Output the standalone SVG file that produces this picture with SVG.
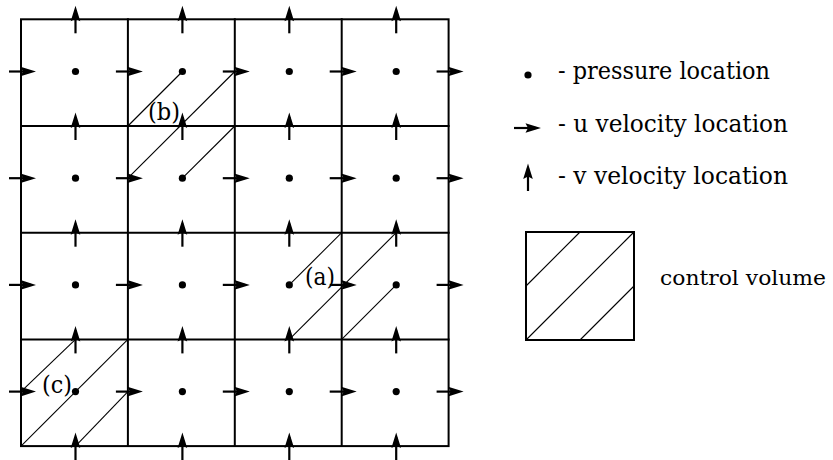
<svg xmlns="http://www.w3.org/2000/svg" xmlns:xlink="http://www.w3.org/1999/xlink" width="833" height="460" viewBox="0 0 833 460">
<style>
.grid{stroke:#000;stroke-width:2;fill:none;stroke-linecap:square}
.hatch{stroke:#000;stroke-width:1.1;fill:none}
.arrline{stroke:#000;stroke-width:2.2}
.lbl{font-family:"DejaVu Serif","Liberation Serif",serif;font-size:24px;fill:#000}
.leg{font-family:"DejaVu Serif","Liberation Serif",serif;font-size:24px;fill:#000}
.cvt{font-family:"DejaVu Serif","Liberation Serif",serif;font-size:20px;fill:#000}
</style>
<defs>
<g id="ua"><line class="arrline" x1="-12" y1="0" x2="10" y2="0"/><path d="M15,0 L-0.5,-4.8 L2,0 L-0.5,4.8 Z" fill="#000"/></g>
<g id="va"><line class="arrline" x1="0" y1="14" x2="0" y2="-9"/><path d="M0,-13.5 L-4.8,2 L0,-0.5 L4.8,2 Z" fill="#000"/></g>
<circle id="pd" r="3.6" fill="#000"/>
</defs>
<rect width="833" height="460" fill="#fff"/>
<g id="grid" class="grid">
<rect x="21" y="19.3" width="427.6" height="426.8"/>
<line x1="127.9" y1="19.3" x2="127.9" y2="446.1"/>
<line x1="234.8" y1="19.3" x2="234.8" y2="446.1"/>
<line x1="341.7" y1="19.3" x2="341.7" y2="446.1"/>
<line x1="21" y1="126" x2="448.6" y2="126"/>
<line x1="21" y1="232.7" x2="448.6" y2="232.7"/>
<line x1="21" y1="339.4" x2="448.6" y2="339.4"/>
</g>
<g id="control-volumes" class="hatch">
<g id="cv-b"><line x1="127.9" y1="126" x2="182.4" y2="71.5"/><line x1="127.9" y1="178.2" x2="234.8" y2="71.5"/><line x1="182.4" y1="178.2" x2="234.8" y2="126"/></g>
<g id="cv-a"><line x1="289.3" y1="284.9" x2="341.7" y2="232.7"/><line x1="289.3" y1="339.4" x2="396.2" y2="232.7"/><line x1="341.7" y1="339.4" x2="396.2" y2="284.9"/></g>
<g id="cv-c"><line x1="21" y1="391.6" x2="75.5" y2="339.4"/><line x1="21" y1="446.1" x2="127.9" y2="339.4"/><line x1="75.5" y1="446.1" x2="127.9" y2="391.6"/></g>
</g>
<g id="pressure-points">
<use xlink:href="#pd" x="75.5" y="71.5"/><use xlink:href="#pd" x="182.4" y="71.5"/><use xlink:href="#pd" x="289.3" y="71.5"/><use xlink:href="#pd" x="396.2" y="71.5"/>
<use xlink:href="#pd" x="75.5" y="178.2"/><use xlink:href="#pd" x="182.4" y="178.2"/><use xlink:href="#pd" x="289.3" y="178.2"/><use xlink:href="#pd" x="396.2" y="178.2"/>
<use xlink:href="#pd" x="75.5" y="284.9"/><use xlink:href="#pd" x="182.4" y="284.9"/><use xlink:href="#pd" x="289.3" y="284.9"/><use xlink:href="#pd" x="396.2" y="284.9"/>
<use xlink:href="#pd" x="75.5" y="391.6"/><use xlink:href="#pd" x="182.4" y="391.6"/><use xlink:href="#pd" x="289.3" y="391.6"/><use xlink:href="#pd" x="396.2" y="391.6"/>
</g>
<g id="u-velocities">
<use xlink:href="#ua" x="21" y="71.5"/><use xlink:href="#ua" x="127.9" y="71.5"/><use xlink:href="#ua" x="234.8" y="71.5"/><use xlink:href="#ua" x="341.7" y="71.5"/><use xlink:href="#ua" x="448.6" y="71.5"/>
<use xlink:href="#ua" x="21" y="178.2"/><use xlink:href="#ua" x="127.9" y="178.2"/><use xlink:href="#ua" x="234.8" y="178.2"/><use xlink:href="#ua" x="341.7" y="178.2"/><use xlink:href="#ua" x="448.6" y="178.2"/>
<use xlink:href="#ua" x="21" y="284.9"/><use xlink:href="#ua" x="127.9" y="284.9"/><use xlink:href="#ua" x="234.8" y="284.9"/><use xlink:href="#ua" x="341.7" y="284.9"/><use xlink:href="#ua" x="448.6" y="284.9"/>
<use xlink:href="#ua" x="21" y="391.6"/><use xlink:href="#ua" x="127.9" y="391.6"/><use xlink:href="#ua" x="234.8" y="391.6"/><use xlink:href="#ua" x="341.7" y="391.6"/><use xlink:href="#ua" x="448.6" y="391.6"/>
</g>
<g id="v-velocities">
<use xlink:href="#va" x="75.5" y="19.3"/><use xlink:href="#va" x="182.4" y="19.3"/><use xlink:href="#va" x="289.3" y="19.3"/><use xlink:href="#va" x="396.2" y="19.3"/>
<use xlink:href="#va" x="75.5" y="126"/><use xlink:href="#va" x="182.4" y="126"/><use xlink:href="#va" x="289.3" y="126"/><use xlink:href="#va" x="396.2" y="126"/>
<use xlink:href="#va" x="75.5" y="232.7"/><use xlink:href="#va" x="182.4" y="232.7"/><use xlink:href="#va" x="289.3" y="232.7"/><use xlink:href="#va" x="396.2" y="232.7"/>
<use xlink:href="#va" x="75.5" y="339.4"/><use xlink:href="#va" x="182.4" y="339.4"/><use xlink:href="#va" x="289.3" y="339.4"/><use xlink:href="#va" x="396.2" y="339.4"/>
<use xlink:href="#va" x="75.5" y="446.1"/><use xlink:href="#va" x="182.4" y="446.1"/><use xlink:href="#va" x="289.3" y="446.1"/><use xlink:href="#va" x="396.2" y="446.1"/>
</g>
<g id="labels">
<text class="lbl" x="148" y="120" textLength="32" lengthAdjust="spacingAndGlyphs">(b)</text>
<text class="lbl" x="305" y="285" textLength="30" lengthAdjust="spacingAndGlyphs">(a)</text>
<text class="lbl" x="42" y="393" textLength="30" lengthAdjust="spacingAndGlyphs">(c)</text>
</g>
<g id="legend">
<g id="legend-pressure"><use xlink:href="#pd" x="528" y="75"/><text class="leg" x="558" y="79" textLength="212" lengthAdjust="spacingAndGlyphs">- pressure location</text></g>
<g id="legend-u"><use xlink:href="#ua" x="526" y="128"/><text class="leg" x="558" y="132" textLength="230" lengthAdjust="spacingAndGlyphs">- u velocity location</text></g>
<g id="legend-v"><use xlink:href="#va" x="528" y="177"/><text class="leg" x="558" y="184" textLength="230" lengthAdjust="spacingAndGlyphs">- v velocity location</text></g>
<g id="legend-cv">
<rect x="526" y="232" width="108" height="108" fill="none" stroke="#000" stroke-width="2"/>
<g class="hatch"><line x1="526" y1="286" x2="580" y2="232"/><line x1="526" y1="340" x2="634" y2="232"/><line x1="580" y1="340" x2="634" y2="286"/></g>
<text class="cvt" x="660" y="285" textLength="166" lengthAdjust="spacingAndGlyphs">control volume</text>
</g>
</g>
</svg>
